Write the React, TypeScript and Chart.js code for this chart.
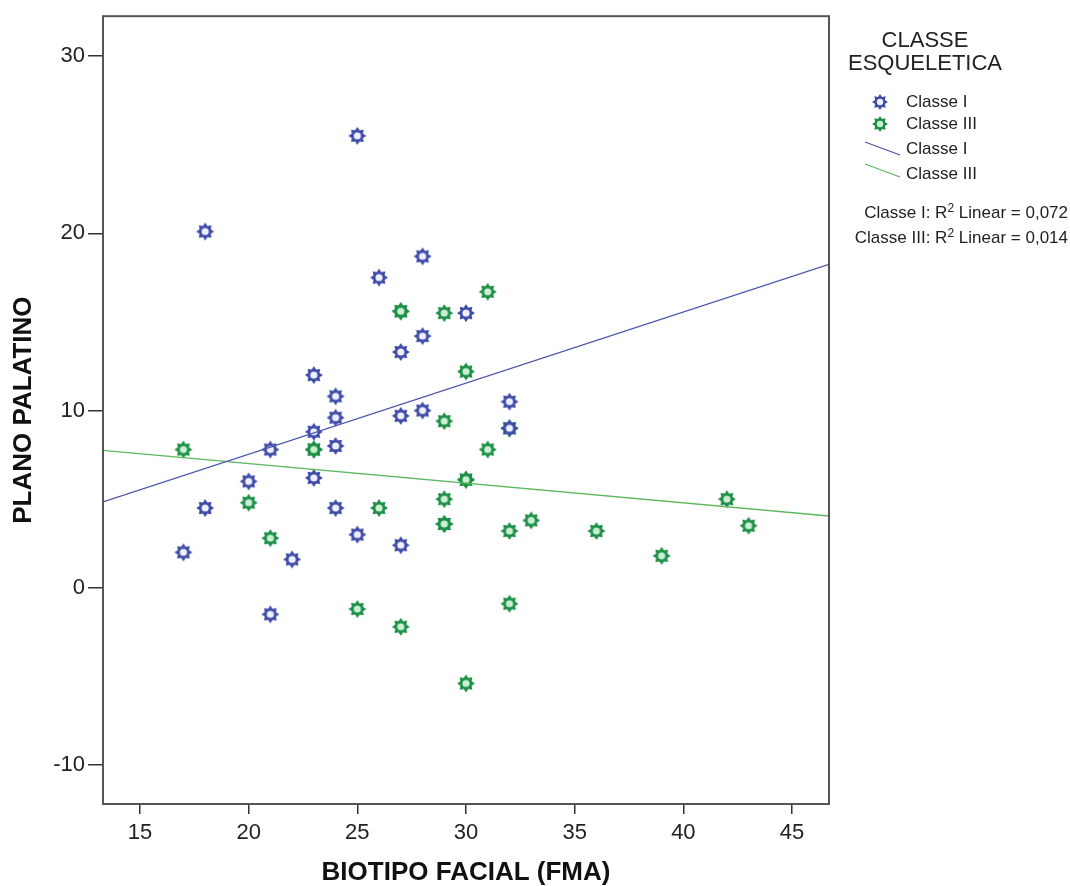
import React, { useEffect, useRef } from "react";
import { Chart, registerables } from "chart.js";

Chart.register(...registerables);

// ---- Data ----
const classIX = [25, 18, 26, 28, 28, 27, 30, 23, 24, 24, 27, 28, 32, 32, 23, 21, 24, 23, 20, 18, 24, 17, 25, 27, 22, 21];
const classIY = [25.5, 20.1, 17.5, 18.7, 14.2, 13.3, 15.5, 12.0, 10.8, 9.6, 9.7, 10.0, 10.5, 9.0, 8.8, 7.8, 8.0, 6.2, 6.0, 4.5, 4.5, 2.0, 3.0, 2.4, 1.6, -1.5];
const classIIIX = [17, 27, 27, 29, 31, 30, 29, 31, 23, 23, 30, 30, 20, 26, 29, 29, 29, 21, 32, 33, 36, 39, 42, 43, 25, 27, 32, 30, 32];
const classIIIY = [7.8, 15.6, 15.6, 15.5, 16.7, 12.2, 9.4, 7.8, 7.8, 7.8, 6.1, 6.1, 4.8, 4.5, 5.0, 3.6, 3.6, 2.8, 3.2, 3.8, 3.2, 1.8, 5.0, 3.5, -1.2, -2.2, -0.9, -5.4, 9.0];

// Fit lines as drawn (endpoints at the axis limits)
const fitX = [13.3, 46.7];
const classIFitY = [4.85, 18.25];
const classIIIFitY = [7.75, 4.05];

const xTicks = [15, 20, 25, 30, 35, 40, 45];
const yTicks = [-10, 0, 10, 20, 30];
const xRange = [13.3, 46.7];
const yRange = [-12.2, 32.25];

const BLUE = "#3D4AA6";
const BLUE_CENTER = "#eef0ff";
const GREEN = "#1C8E45";
const GREEN_CENTER = "#c9f0d2";
const BLUE_LINE = "#4A55AA";
const GREEN_LINE = "#5DB85F";

function starPath(ctx: CanvasRenderingContext2D, cx: number, cy: number, ro: number, ri: number) {
  ctx.beginPath();
  for (let i = 0; i < 16; i++) {
    const r = i % 2 === 0 ? ro : ri;
    const a = (Math.PI / 8) * i - Math.PI / 2;
    const px = cx + r * Math.cos(a);
    const py = cy + r * Math.sin(a);
    if (i === 0) ctx.moveTo(px, py);
    else ctx.lineTo(px, py);
  }
  ctx.closePath();
}

function makeStar(color: string, center: string): HTMLCanvasElement {
  const c = document.createElement("canvas");
  c.width = 20;
  c.height = 20;
  const ctx = c.getContext("2d")!;
  starPath(ctx, 10, 10, 9, 6);
  ctx.fillStyle = color;
  ctx.fill();
  ctx.beginPath();
  ctx.arc(10, 10, 3.6, 0, Math.PI * 2);
  ctx.fillStyle = center;
  ctx.fill();
  return c;
}

const framePlugin = {
  id: "frame",
  afterDraw(chart: any) {
    const { ctx, chartArea } = chart;
    ctx.save();
    ctx.strokeStyle = "#555";
    ctx.lineWidth = 2;
    ctx.strokeRect(chartArea.left, chartArea.top, chartArea.right - chartArea.left, chartArea.bottom - chartArea.top);
    ctx.restore();
  },
};

function StarIcon({ color, center }: { color: string; center: string }) {
  const pts: string[] = [];
  for (let i = 0; i < 16; i++) {
    const r = i % 2 === 0 ? 8 : 5.3;
    const a = (Math.PI / 8) * i - Math.PI / 2;
    pts.push(`${(9 + r * Math.cos(a)).toFixed(2)},${(9 + r * Math.sin(a)).toFixed(2)}`);
  }
  return (
    <svg width={18} height={18} style={{ position: "absolute", left: 0, top: 0 }}>
      <polygon points={pts.join(" ")} fill={color} />
      <circle cx={9} cy={9} r={3.2} fill={center} />
    </svg>
  );
}

export default function App() {
  const canvasRef = useRef<HTMLCanvasElement | null>(null);

  useEffect(() => {
    const canvas = canvasRef.current!;
    const blueStar = makeStar(BLUE, BLUE_CENTER);
    const greenStar = makeStar(GREEN, GREEN_CENTER);
    const tickFont = { family: "'Liberation Sans', Arial, sans-serif", size: 22 };
    const titleFont = { family: "'Liberation Sans', Arial, sans-serif", size: 26, weight: "bold" as const, lineHeight: 1.0 };

    const chart = new Chart(canvas, {
      type: "scatter",
      data: {
        datasets: [
          {
            label: "Classe I",
            data: classIX.map((x, i) => ({ x, y: classIY[i] })),
            pointStyle: blueStar,
            pointRadius: 9,
            order: 2,
          },
          {
            label: "Classe III",
            data: classIIIX.map((x, i) => ({ x, y: classIIIY[i] })),
            pointStyle: greenStar,
            pointRadius: 9,
            order: 3,
          },
          {
            type: "line",
            label: "Classe I fit",
            data: fitX.map((x, i) => ({ x, y: classIFitY[i] })),
            borderColor: BLUE_LINE,
            borderWidth: 1.3,
            pointRadius: 0,
            fill: false,
            order: 1,
          },
          {
            type: "line",
            label: "Classe III fit",
            data: fitX.map((x, i) => ({ x, y: classIIIFitY[i] })),
            borderColor: GREEN_LINE,
            borderWidth: 1.3,
            pointRadius: 0,
            fill: false,
            order: 1,
          },
        ] as any,
      },
      options: {
        animation: false,
        responsive: false,
        events: [],
        layout: { padding: { left: 0, top: 15, right: 241, bottom: 0 } },
        plugins: { legend: { display: false }, tooltip: { enabled: false } },
        scales: {
          x: {
            type: "linear",
            min: xRange[0],
            max: xRange[1],
            afterBuildTicks: (scale: any) => {
              scale.ticks = xTicks.map((v) => ({ value: v }));
            },
            afterFit: (scale: any) => {
              scale.height = 82;
            },
            grid: { display: true, drawOnChartArea: false, drawTicks: true, tickLength: 10, color: "#333", lineWidth: 1.5 },
            border: { display: false },
            ticks: { color: "#222", font: tickFont, padding: 6, maxRotation: 0, autoSkip: false, callback: (v: any) => String(v) },
            title: { display: true, text: "BIOTIPO FACIAL (FMA)", color: "#111", font: titleFont, padding: { top: 0, bottom: 0 } },
          },
          y: {
            type: "linear",
            min: yRange[0],
            max: yRange[1],
            afterBuildTicks: (scale: any) => {
              scale.ticks = yTicks.map((v) => ({ value: v }));
            },
            afterFit: (scale: any) => {
              scale.width = 103;
            },
            grid: { display: true, drawOnChartArea: false, drawTicks: true, tickLength: 15, color: "#333", lineWidth: 1.5 },
            border: { display: false },
            ticks: { color: "#222", font: tickFont, padding: 3, autoSkip: false, callback: (v: any) => String(v) },
            title: { display: true, text: "PLANO PALATINO", color: "#111", font: titleFont, padding: { top: 11, bottom: 0 } },
          },
        },
      },
      plugins: [framePlugin],
    });
    return () => chart.destroy();
  }, []);

  const legendFont = "'Liberation Sans', Arial, sans-serif";
  const itemStyle = (top: number): React.CSSProperties => ({
    position: "absolute",
    left: 906,
    top: top - 11,
    fontSize: 17,
    lineHeight: "22px",
    color: "#222",
    fontFamily: legendFont,
    whiteSpace: "nowrap",
  });

  return (
    <div style={{ position: "absolute", left: 0, top: 0, width: 1070, height: 886, background: "#fff", overflow: "hidden" }}>
      <canvas ref={canvasRef} width={1070} height={886} style={{ display: "block" }} />
      <div
        style={{
          position: "absolute",
          left: 825,
          width: 200,
          top: 28,
          textAlign: "center",
          fontFamily: legendFont,
          fontSize: 22,
          lineHeight: "23px",
          color: "#222",
        }}
      >
        CLASSE
        <br />
        ESQUELETICA
      </div>
      <div style={{ position: "absolute", left: 871, top: 93, width: 18, height: 18 }}>
        <StarIcon color={BLUE} center={BLUE_CENTER} />
      </div>
      <div style={itemStyle(102)}>Classe I</div>
      <div style={{ position: "absolute", left: 871, top: 115, width: 18, height: 18 }}>
        <StarIcon color={GREEN} center={GREEN_CENTER} />
      </div>
      <div style={itemStyle(124)}>Classe III</div>
      <svg width={50} height={60} style={{ position: "absolute", left: 860, top: 135 }}>
        <line x1={5} y1={7} x2={40} y2={20} stroke={BLUE_LINE} strokeWidth={1.3} />
        <line x1={5} y1={29} x2={40} y2={42} stroke={GREEN_LINE} strokeWidth={1.3} />
      </svg>
      <div style={itemStyle(149)}>Classe I</div>
      <div style={itemStyle(174)}>Classe III</div>
      <div
        style={{
          position: "absolute",
          right: 2,
          top: 200,
          textAlign: "right",
          fontFamily: legendFont,
          fontSize: 17,
          lineHeight: "25px",
          color: "#222",
          whiteSpace: "nowrap",
        }}
      >
        <div>
          Classe I: R<sup style={{ fontSize: 12, verticalAlign: "6px", lineHeight: 0 }}>2</sup> Linear = 0,072
        </div>
        <div>
          Classe III: R<sup style={{ fontSize: 12, verticalAlign: "6px", lineHeight: 0 }}>2</sup> Linear = 0,014
        </div>
      </div>
    </div>
  );
}
